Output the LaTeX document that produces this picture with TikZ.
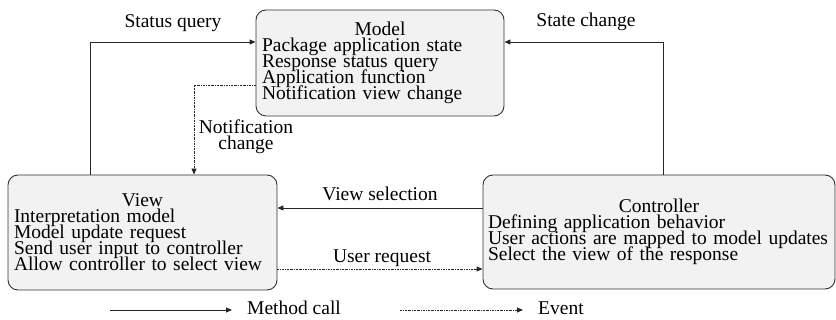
\documentclass[tikz,border=0pt]{standalone}
\usepackage{fontspec}
\setmainfont{Liberation Serif}
\usetikzlibrary{arrows.meta}

\newcommand{\mvcfont}{\fontsize{19.5}{16}\selectfont\lineskiplimit=-20pt\parindent=0pt\relax}

\tikzset{
  mvcbox/.style={draw=black!80, fill=black!5, rounded corners=10pt, line width=0.9pt,
    inner xsep=6pt, inner ysep=0pt, align=left, font=\mvcfont},
  call/.style={draw=black!85, line width=0.9pt, -{Triangle[length=6pt,width=5pt]}},
  event/.style={call, dash pattern=on 2pt off 1pt on 0.6pt off 1pt},
  lbl/.style={inner sep=0pt, font=\mvcfont},
}

\begin{document}
\begin{tikzpicture}[x=1pt,y=-1pt]
\useasboundingbox (0,0) rectangle (836,320);
% the three parts
\node[mvcbox, text width=236pt, minimum height=106pt] (model) at (380,63)
  {{\centering Model\par}Package application state\\Response status query\\Application function\\Notification view change};
\node[mvcbox, text width=257pt, minimum height=115pt] (view) at (142.5,232.5)
  {{\centering View\par}Interpretation model\\Model update request\\Send user input to controller\\Allow controller to select view};
\node[mvcbox, inner xsep=5pt, text width=342pt, minimum height=114pt] (ctrl) at (659,232)
  {{\centering Controller\par}Defining application behavior\\User actions are mapped to model updates\\Select the view of the response};
% connectors
\draw[call] ([xshift=-52.5pt]view.north) |- ([yshift=21pt]model.west);
\draw[call] ([xshift=4pt]ctrl.north) |- ([yshift=21pt]model.east);
\draw[event] ([yshift=-22pt]model.west) -| ([xshift=51.5pt]view.north);
\coordinate (vsel) at ([yshift=24pt]ctrl.west);
\draw[call] (vsel) -- (vsel -| view.east);
\coordinate (ureq) at ([yshift=-36.5pt]view.east);
\draw[event] (ureq) -- (ureq -| ctrl.west);
% labels
\node[lbl, anchor=base] (sqlbl) at (173,27.5) {Status query};
\node[lbl, anchor=base] (sclbl) at (586,27) {State change};
\node[lbl, anchor=north, align=center] (nclbl) at (246,120) {Notification\\change};
\node[lbl, anchor=base] (vslbl) at (380,201) {View selection};
\node[lbl, anchor=base] (urlbl) at (382,263) {User request};
% legend
\node[lbl, anchor=base west] (mclbl) at (247,315) {Method call};
\node[lbl, anchor=base west] (evlbl) at (538,315) {Event};
\coordinate (mcstart) at (110,310);
\coordinate (evstart) at (400,310);
\draw[call, shorten >=15pt] (mcstart) -- (mcstart -| mclbl.west);
\draw[event, shorten >=15pt] (evstart) -- (evstart -| evlbl.west);
\end{tikzpicture}
\end{document}
